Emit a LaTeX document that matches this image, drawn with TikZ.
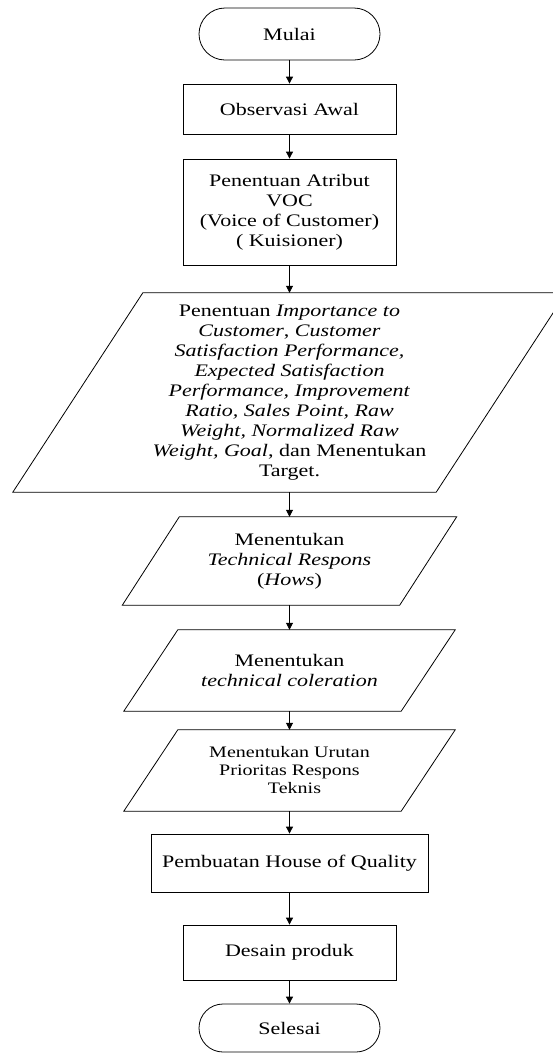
\documentclass[tikz,border=0pt]{standalone}
\usepackage{fontspec}
\setmainfont{Liberation Serif}[FakeStretch=1.25]
\usetikzlibrary{arrows.meta,shapes.misc}
\newcommand{\fsmain}{\fontsize{17.6}{20}\selectfont}
\newcommand{\fssmall}{\fontsize{16}{18}\selectfont}
\begin{document}
\begin{tikzpicture}[x=1pt,y=-1pt,
  ln/.style={line width=0.8pt, draw=black},
  term/.style={ln, rounded rectangle, inner sep=0pt, align=center, font=\fsmain},
  box/.style={ln, rectangle, inner sep=0pt, align=center, font=\fsmain},
  pbox/.style={rectangle, inner sep=0pt, align=center, font=\fsmain},
  arr/.style={line width=0.8pt, -{Triangle[length=7pt,width=7pt]}}]
\useasboundingbox (0,0) rectangle (553,1053);
\clip (0,0) rectangle (553,1053);

\node[term, minimum width=181pt, minimum height=52pt] (mulai) at (289.5,34) {Mulai};
\node[box, minimum width=213pt, minimum height=50pt] (obs) at (289.5,109) {Observasi Awal};
\node[box, minimum width=213pt, minimum height=106pt] (atr) at (289.5,212) {Penentuan Atribut\\VOC\\(Voice of Customer)\\( Kuisioner)};

\node[pbox, minimum width=423pt, minimum height=199pt] (big) at (289.5,392.5)
 {Penentuan \textit{Importance to}\\\textit{Customer}, \textit{Customer}\\\textit{Satisfaction Performance,}\\\textit{Expected Satisfaction}\\\textit{Performance, Improvement}\\\textit{Ratio, Sales Point, Raw}\\\textit{Weight, Normalized Raw}\\\textit{Weight, Goal}, dan Menentukan\\Target.};
\draw[ln] ([xshift=-65pt]big.south west) -- ([xshift=-65pt]big.south east) -- ([xshift=65pt]big.north east) -- ([xshift=65pt]big.north west) -- cycle;

\node[pbox, minimum width=277pt, minimum height=88pt] (tech) at (289.5,561)
 {Menentukan\\\textit{Technical Respons}\\(\textit{Hows})};
\draw[ln] ([xshift=-28.5pt]tech.south west) -- ([xshift=-28.5pt]tech.south east) -- ([xshift=28.5pt]tech.north east) -- ([xshift=28.5pt]tech.north west) -- cycle;

\node[pbox, minimum width=277pt, minimum height=81pt] (col) at (289.5,670.5)
 {Menentukan\\\textit{technical coleration}};
\draw[ln] ([xshift=-27pt]col.south west) -- ([xshift=-27pt]col.south east) -- ([xshift=27pt]col.north east) -- ([xshift=27pt]col.north west) -- cycle;

\node[pbox, minimum width=277pt, minimum height=81pt, font=\fssmall] (uru) at (289.5,770.5)
 {Menentukan Urutan\\Prioritas Respons\\\ \ Teknis};
\draw[ln] ([xshift=-27pt]uru.south west) -- ([xshift=-27pt]uru.south east) -- ([xshift=27pt]uru.north east) -- ([xshift=27pt]uru.north west) -- cycle;

\node[box, minimum width=277pt, minimum height=58pt] (hoq) at (289.5,863) {Pembuatan House of Quality};
\node[box, minimum width=213pt, minimum height=55pt] (des) at (289.5,952.5) {Desain produk};
\node[term, minimum width=181pt, minimum height=48pt] (sel) at (289.5,1028) {Selesai};

\draw[arr] (mulai.south) -- (obs.north);
\draw[arr] (obs.south) -- (atr.north);
\draw[arr] (atr.south) -- (big.north);
\draw[arr] (big.south) -- (tech.north);
\draw[arr] (tech.south) -- (col.north);
\draw[arr] (col.south) -- (uru.north);
\draw[arr] (uru.south) -- (hoq.north);
\draw[arr] (hoq.south) -- (des.north);
\draw[arr] (des.south) -- (sel.north);
\end{tikzpicture}
\end{document}
